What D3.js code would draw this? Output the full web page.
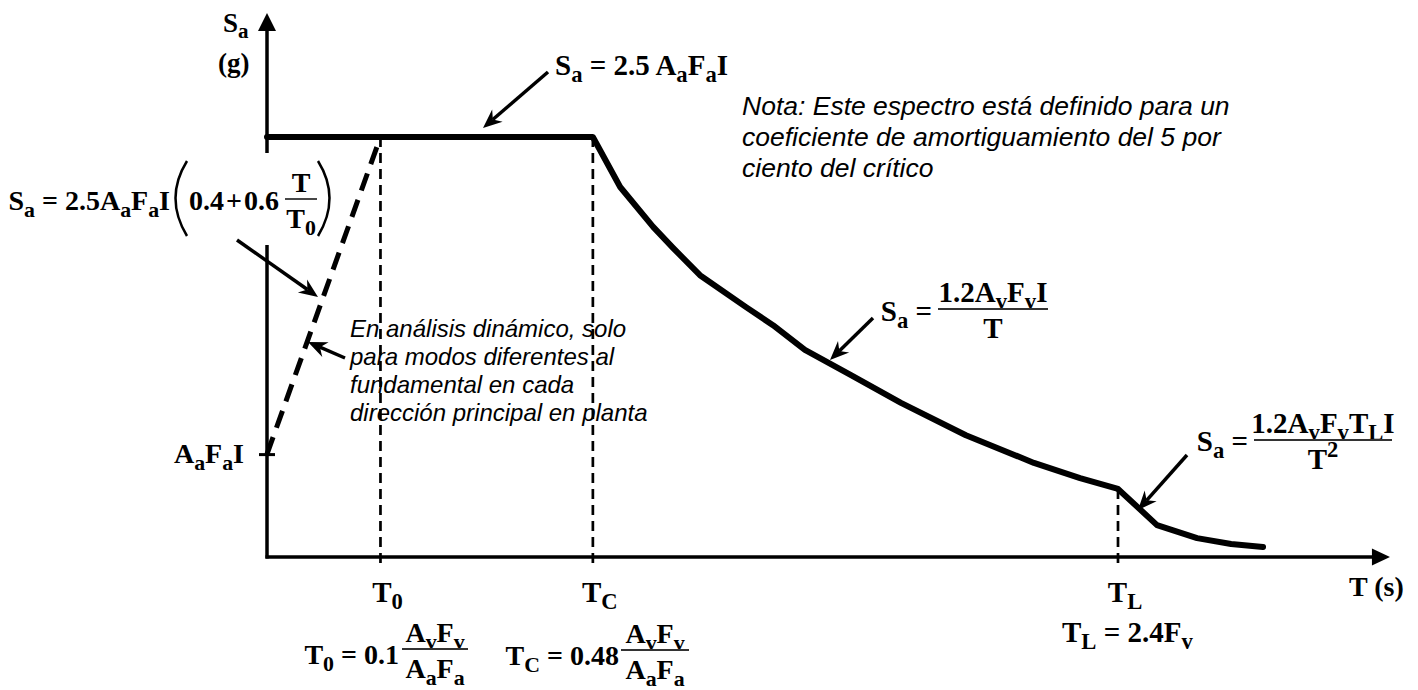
<!DOCTYPE html>
<meta charset="utf-8">
<style>
body { margin: 0; background: #fff; }
svg { display: block; }
.math { font-family: "Liberation Serif", "Times New Roman", serif; font-weight: bold; fill: #000; white-space: pre; }
.note { font-family: "Liberation Sans", Arial, sans-serif; font-style: italic; fill: #000; }
</style>
<svg width="1418" height="690"></svg>
<script src="https://cdn.jsdelivr.net/npm/d3@7/dist/d3.min.js"></script>
<script>
// spectrum (T in s, Sa normalised so 2.5AaFaI = 1)
var periodT    = [0, 0.919, 0.996, 1.089, 1.145, 1.221, 1.351, 1.427, 1.517, 1.647, 1.788, 1.971, 2.163, 2.293, 2.400, 2.510, 2.623, 2.719, 2.809];
var spectrumSa = [1, 1,     0.881, 0.786, 0.736, 0.671, 0.595, 0.552, 0.493, 0.433, 0.367, 0.290, 0.224, 0.188, 0.162, 0.076, 0.045, 0.031, 0.024];

// dashed ramp for T < T0
var rampT  = [0, 0.32];
var rampSa = [0.245, 1];

// characteristic periods
var markerNames = ["0", "C", "L"];
var markerT     = [0.32, 0.919, 2.4];
var markerTopSa = [1, 1, 0.162];

var aaFaI = 0.245;
var tMax = 3.167, saMax = 1.295;

var svg = d3.select("svg");
var x = d3.scaleLinear().domain([0, 2.4]).range([267, 1118]);
var y = d3.scaleLinear().domain([0, 1]).range([557, 137]);

var g = svg.append("g");

// parts: "text" or [text, "sub"|"sup"|"", dx]
function mathText(parent, px, py, parts, size, anchor) {
  size = size || 28;
  var t = parent.append("text").attr("class", "math")
    .attr("x", px).attr("y", py)
    .attr("font-size", size)
    .attr("text-anchor", anchor || "start");
  var cur = 0;
  parts.forEach(function(p) {
    var s = typeof p === "string" ? p : p[0];
    var k = typeof p === "string" ? "" : p[1];
    var dx = typeof p === "string" ? 0 : (p[2] || 0);
    var off = k === "sub" ? size * 0.24 : k === "sup" ? -size * 0.42 : 0;
    t.append("tspan").attr("dy", off - cur).attr("dx", dx)
      .attr("font-size", k ? size * 0.78 : size).text(s);
    cur = off;
  });
  return t;
}

function fraction(parent, cx, barY, halfW, num, den, size) {
  mathText(parent, cx, barY - 7, num, size, "middle");
  parent.append("line")
    .attr("x1", cx - halfW).attr("x2", cx + halfW)
    .attr("y1", barY).attr("y2", barY)
    .attr("stroke", "#333").attr("stroke-width", 1.8);
  mathText(parent, cx, barY + 29, den, size, "middle");
}

function arrow(parent, x1, y1, x2, y2) {
  var a = Math.atan2(y2 - y1, x2 - x1), c = Math.cos(a), s = Math.sin(a);
  var L = 19, W = 8, notch = 6;
  parent.append("line")
    .attr("x1", x1).attr("y1", y1)
    .attr("x2", x2 - c * (L - notch)).attr("y2", y2 - s * (L - notch))
    .attr("stroke", "#000").attr("stroke-width", 3.5);
  var pts = [
    [x2, y2],
    [x2 - c * L - s * W, y2 - s * L + c * W],
    [x2 - c * (L - notch), y2 - s * (L - notch)],
    [x2 - c * L + s * W, y2 - s * L - c * W]
  ];
  parent.append("polygon").attr("points", pts.join(" ")).attr("fill", "#000");
}

// dashed verticals
g.selectAll(".vline")
  .data(markerT)
  .enter().append("line")
    .attr("class", "vline")
    .attr("x1", function(d) { return x(d); })
    .attr("x2", function(d) { return x(d); })
    .attr("y1", function(d, i) { return y(markerTopSa[i]); })
    .attr("y2", y(-0.025))
    .attr("stroke", "#000").attr("stroke-width", 2.7)
    .attr("stroke-dasharray", "10,6");

// axes
g.append("line")
  .attr("x1", x(0)).attr("x2", x(0))
  .attr("y1", y(0) + 1.5).attr("y2", y(saMax) + 12)
  .attr("stroke", "#000").attr("stroke-width", 3.5);
g.append("polygon")
  .attr("points", [[x(0), y(saMax)], [x(0) - 9, y(saMax) + 18], [x(0) + 9, y(saMax) + 18]].join(" "))
  .attr("fill", "#000");
g.append("line")
  .attr("x1", x(0) - 1.5).attr("x2", x(tMax) - 12)
  .attr("y1", y(0)).attr("y2", y(0))
  .attr("stroke", "#000").attr("stroke-width", 3.5);
g.append("polygon")
  .attr("points", [[x(tMax), y(0)], [x(tMax) - 18, y(0) - 8.5], [x(tMax) - 18, y(0) + 8.5]].join(" "))
  .attr("fill", "#000");

// AaFaI tick through d3 axis
var yAxis = g.append("g")
  .attr("transform", "translate(" + (x(0) + 8) + ",0)")
  .call(d3.axisLeft(y).tickValues([aaFaI]).tickSize(16).tickFormat(""));
yAxis.select(".domain").remove();
yAxis.selectAll(".tick line").attr("stroke", "#000").attr("stroke-width", 3);

// ramp (dashed)
var rampData = rampT.map(function(t, i) { return {t: t, sa: rampSa[i]}; });
var line = d3.line().x(function(d) { return x(d.t); }).y(function(d) { return y(d.sa); });
g.append("path")
  .datum(rampData)
  .attr("d", line)
  .attr("fill", "none").attr("stroke", "#000").attr("stroke-width", 5)
  .attr("stroke-dasharray", "18,10");

// spectrum
var specData = periodT.map(function(t, i) { return {t: t, sa: spectrumSa[i]}; });
g.append("path")
  .datum(specData)
  .attr("d", line)
  .attr("fill", "none").attr("stroke", "#000").attr("stroke-width", 6)
  .attr("stroke-linejoin", "round").attr("stroke-linecap", "round");

// labels
mathText(g, 223, 32, ["S", ["a", "sub"]], 27);
mathText(g, 218, 72, ["(g)"], 27);
mathText(g, 244, 463, ["A", ["a", "sub"], "F", ["a", "sub"], "I"], 28, "end");

markerT.forEach(function(t, i) {
  mathText(g, x(t) + 7, 602, ["T", [markerNames[i], "sub"]], 29, "middle");
});
mathText(g, 1349, 596, ["T (s)"], 28);

// plateau formula
mathText(g, 555, 75, ["S", ["a", "sub"], " = 2.5 ", "A", ["a", "sub"], "F", ["a", "sub"], "I"], 29);
arrow(g, 548, 72, 483, 128);

// ramp formula (white box hides the axis)
var lf = g.append("g");
lf.append("rect").attr("x", 5).attr("y", 153).attr("width", 331).attr("height", 92).attr("fill", "#fff");
mathText(lf, 170, 210, ["S", ["a", "sub"], " = 2.5", "A", ["a", "sub"], "F", ["a", "sub"], "I"], 28, "end");
lf.append("path").attr("d", "M187,161 Q164,198 187,236").attr("fill", "none").attr("stroke", "#000").attr("stroke-width", 2.5);
mathText(lf, 279, 210, ["0.4", ["+", "", 2], ["0.6", "", 2]], 28, "end");
fraction(lf, 301, 199, 16, ["T"], ["T", ["0", "sub"]], 28);
lf.append("path").attr("d", "M318,161 Q341,198 318,236").attr("fill", "none").attr("stroke", "#000").attr("stroke-width", 2.5);
arrow(g, 237, 240, 318, 297);

// descending branch formulas
mathText(g, 932, 321, ["S", ["a", "sub"], " ="], 29, "end");
fraction(g, 993, 309, 55, ["1.2", "A", ["v", "sub"], "F", ["v", "sub"], "I"], ["T"], 29);
arrow(g, 873, 318, 830, 360);

mathText(g, 1248, 451, ["S", ["a", "sub"], " ="], 29, "end");
fraction(g, 1323, 440, 69, ["1.2A", ["v", "sub"], "F", ["v", "sub"], "T", ["L", "sub"], "I"], ["T", ["2", "sup"]], 29);
arrow(g, 1187, 455, 1138, 510);

// period definitions
mathText(g, 399, 664, ["T", ["0", "sub"], " = 0.1"], 28, "end");
fraction(g, 435, 649, 33, ["A", ["v", "sub"], "F", ["v", "sub"]], ["A", ["a", "sub"], "F", ["a", "sub"]], 28);
mathText(g, 619, 665, ["T", ["C", "sub"], " = 0.48"], 28, "end");
fraction(g, 655, 650, 34, ["A", ["v", "sub"], "F", ["v", "sub"]], ["A", ["a", "sub"], "F", ["a", "sub"]], 28);
mathText(g, 1062, 642, ["T", ["L", "sub"], " = 2.4F", ["v", "sub"]], 29);

// notes
var notaLines = ["Nota: Este espectro está definido para un", "coeficiente de amortiguamiento del 5 por", "ciento del crítico"];
g.selectAll(".nota").data(notaLines).enter().append("text")
  .attr("class", "note nota").attr("x", 742)
  .attr("y", function(d, i) { return 115 + i * 31; })
  .attr("font-size", 26.5).text(function(d) { return d; });

var dynLines = ["En análisis dinámico, solo", "para modos diferentes al", "fundamental en cada", "dirección principal en planta"];
g.selectAll(".dyn").data(dynLines).enter().append("text")
  .attr("class", "note dyn").attr("x", 350)
  .attr("y", function(d, i) { return 337 + i * 28; })
  .attr("font-size", 24).text(function(d) { return d; });
arrow(g, 345, 358, 308, 342);
</script>
